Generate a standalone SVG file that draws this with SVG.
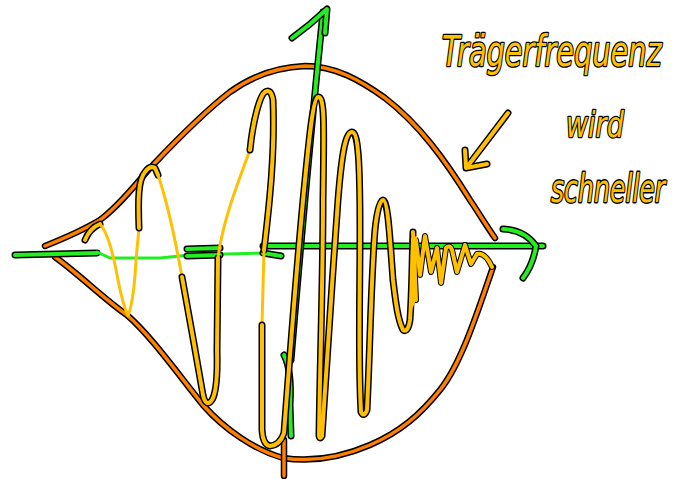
<svg xmlns="http://www.w3.org/2000/svg" xmlns:xlink="http://www.w3.org/1999/xlink" width="681" height="479" viewBox="0 0 681 479">
<style>
.ob{fill:none;stroke:#000;stroke-width:7;stroke-linecap:round;stroke-linejoin:round}
.obs{fill:none;stroke:#000;stroke-width:6.5;stroke-linecap:round;stroke-linejoin:round}
.or{fill:none;stroke:#FF7F00;stroke-width:3.5;stroke-linecap:round;stroke-linejoin:round}
.ye{fill:none;stroke:#FFC000;stroke-width:4;stroke-linecap:round;stroke-linejoin:round}
.gr{fill:none;stroke:#22EE22;stroke-width:4;stroke-linecap:round;stroke-linejoin:round}
.yt{fill:none;stroke:#FFC000;stroke-width:3;stroke-linecap:round;stroke-linejoin:round}
.gt{fill:none;stroke:#22EE22;stroke-width:3;stroke-linecap:round;stroke-linejoin:round}
.txt{font-family:"DejaVu Sans Condensed","DejaVu Sans",sans-serif;font-style:italic;fill:#FFC000;stroke:#000;stroke-width:2;paint-order:stroke;stroke-linejoin:round}
</style>
<defs>
<path id="envU" d="M45,246 C60,240 80,232 100,220 C120,205 135,185 150,168 C170,147 200,115 230,92 C255,74 280,67 305,66 C335,66 360,80 385,98 C420,125 445,160 470,200 C480,215 488,228 495,238"/>
<path id="envL" d="M55,257 C80,275 105,300 127,315 C150,335 175,370 203,405 C225,430 255,450 283,458 C310,462 340,458 370,445 C400,432 420,415 440,390 C460,365 475,320 493,267"/>
<path id="tick" d="M284,440 L284,476"/>
<path id="axL" d="M15,255 L97,253"/>
<path id="axD1" d="M187,249 L220,248"/>
<path id="axD2" d="M187,256 L220,255"/>
<path id="axS" d="M263,253 L281,256"/>
<path id="axM" d="M263,246 L543,246"/>
<path id="axH" d="M503,229 Q525,230 536,246 Q533,265 523,278"/>
<path id="axV" d="M291,360 Q305,190 323,12"/>
<path id="axVh" d="M292,38 Q310,25 327,9 L325,33"/>
<path id="axHook" d="M284,355 Q292,370 290,405 L291,436"/>
<path id="y1" d="M85,240 Q90,228 100,224"/>
<path id="y3" d="M139,228 C138,200 138,180 145,172 Q150,165 155,168 L158,175"/>
<path id="y5" d="M182,277 C188,310 197,360 203,395 Q206,408 212,400 Q218,390 217,350 L218,258"/>
<path id="y7" d="M250,150 C253,120 260,95 265,92 Q271,88 273,100 C275,150 270,200 264,250"/>
<path id="y9" d="M262,325 L262,430 Q263,445 270,446 Q280,445 284,433 C288,380 298,250 305,180 C309,140 313,98 318,97 C325,95 324,130 323,200 C323,280 320,360 319,436 Q320,440 322,436 C326,380 332,280 338,200 C342,150 346,132 352,132 C358,132 360,160 360,230 C360,300 358,360 361,412 Q364,418 367,410 C370,350 371,280 375,230 C377,210 380,200 383,200 C388,200 390,240 393,280 C396,305 398,320 403,330 Q408,333 410,320 C412,290 412,260 413,232"/>
<path id="y10" d="M413,232 L416,300 M416,240 L420,275 L425,236 L431,272 L437,248 L441,283 L446,248 Q450,244 452,250 L457,272 L465,245 L471,264 L477,254 Q485,252 492,267"/>
<path id="arr" d="M508,113 L467,167 M465,150 L466,168 L487,164"/>
</defs>

<g id="envelope">
<use href="#envU" class="obs"/><use href="#envU" class="or"/>
<use href="#envL" class="obs"/><use href="#envL" class="or"/>
<use href="#tick" class="obs"/><use href="#tick" class="or"/>
</g>

<g id="axes">
<use href="#axL" class="ob"/><use href="#axL" class="gr"/>
<path class="gt" d="M97,252 L110,258 L160,258 L190,255 L262,253 L282,254"/>
<use href="#axD1" class="ob"/><use href="#axD1" class="gr"/>
<use href="#axD2" class="ob"/><use href="#axD2" class="gr"/>
<use href="#axS" class="ob"/><use href="#axS" class="gr"/>
<use href="#axM" class="ob"/><use href="#axM" class="gr"/>
<use href="#axH" class="ob"/><use href="#axH" class="gr"/>
<use href="#axV" class="ob"/><use href="#axV" class="gr"/>
<use href="#axVh" class="ob"/><use href="#axVh" class="gr"/>
<use href="#axHook" class="ob"/><use href="#axHook" class="gr"/>
</g>

<g id="carrier">
<use href="#y1" class="ob"/><use href="#y1" class="ye"/>
<path class="yt" d="M100,224 Q110,235 118,280 Q123,305 128,316 Q134,300 136,260 L139,228"/>
<use href="#y3" class="ob"/><use href="#y3" class="ye"/>
<path class="yt" d="M158,175 Q170,210 182,277"/>
<use href="#y5" class="ob"/><use href="#y5" class="ye"/>
<path class="yt" d="M218,258 C222,225 235,190 250,150"/>
<use href="#y7" class="ob"/><use href="#y7" class="ye"/>
<path class="yt" d="M264,250 L262,325"/>
<use href="#y9" class="ob"/><use href="#y9" class="ye"/>
<use href="#y10" class="ob" style="stroke-width:6"/><use href="#y10" class="ye"/>
<path d="M411,238 L417,236 L416,300 L411,312 Z" fill="#FFC000"/>
</g>

<g id="annotation">
<use href="#arr" class="ob"/><use href="#arr" class="ye"/>
<text class="txt" transform="translate(442,66) scale(1,1.35)" font-size="32">Trägerfrequenz</text>
<text class="txt" transform="translate(566,137) scale(1,1.2)" font-size="30">wird</text>
<text class="txt" transform="translate(551,202) scale(1,1.4)" font-size="28">schneller</text>
</g>
</svg>
